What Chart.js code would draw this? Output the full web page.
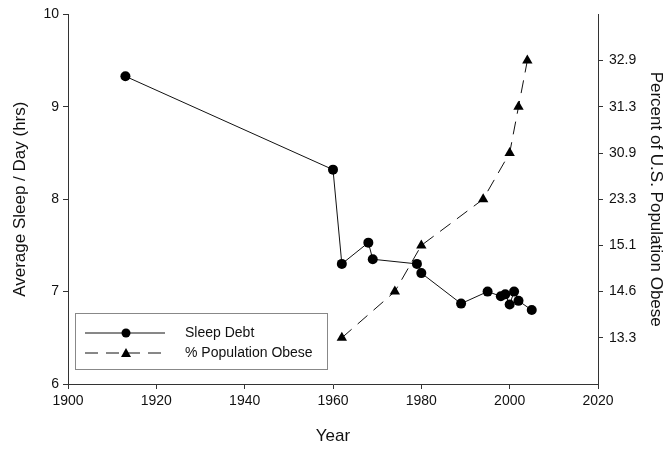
<!DOCTYPE html>
<html>
<head>
<meta charset="utf-8">
<script src="https://cdn.jsdelivr.net/npm/chart.js@4"></script>
<style>
  html, body { margin: 0; padding: 0; background: #fff; }
  #wrap { width: 672px; height: 450px; }
</style>
</head>
<body>
<div id="wrap"><canvas id="sleepChart" width="672" height="450"></canvas></div>
<script>
// sleep data
const sleepYears = [1913, 1960, 1962, 1968, 1969, 1979, 1980, 1989, 1995, 1998, 1999, 2000, 2001, 2002, 2005];
const sleepHours = [9.33, 8.32, 7.30, 7.53, 7.35, 7.30, 7.20, 6.87, 7.00, 6.95, 6.97, 6.86, 7.00, 6.90, 6.80];

// obesity data (right axis is ordinal: one tick per value)
const obeseYears = [1962, 1974, 1980, 1994, 2000, 2002, 2004];
const obesePct = [13.3, 14.6, 15.1, 23.3, 30.9, 31.3, 32.9];
const obeseTicks = ['13.3', '14.6', '15.1', '23.3', '30.9', '31.3', '32.9'];

const yearTicks = [1900, 1920, 1940, 1960, 1980, 2000, 2020];

const FONT = 'Arial, "Liberation Sans", sans-serif';
const AXIS = '#333';

const legendBox = {
  id: 'legendBox',
  afterDatasetsDraw(chart) {
    const ctx = chart.ctx;
    const x0 = 75, y0 = 313, w = 252, h = 56;
    ctx.save();
    ctx.fillStyle = '#fff';
    ctx.fillRect(x0, y0, w, h);
    ctx.strokeStyle = '#888';
    ctx.lineWidth = 1;
    ctx.strokeRect(x0 + 0.5, y0 + 0.5, w, h);

    chart.data.datasets.forEach((ds, i) => {
      const y = y0 + 20 + i * 20;
      ctx.strokeStyle = '#111';
      ctx.lineWidth = 1;
      ctx.setLineDash(ds.borderDash || []);
      ctx.beginPath();
      ctx.moveTo(85, y);
      ctx.lineTo(165, y);
      ctx.stroke();
      ctx.setLineDash([]);
      ctx.fillStyle = '#000';
      ctx.beginPath();
      if (ds.pointStyle === 'triangle') {
        ctx.moveTo(126, y - 5);
        ctx.lineTo(131, y + 4);
        ctx.lineTo(121, y + 4);
        ctx.closePath();
      } else {
        ctx.arc(126, y, 4.5, 0, Math.PI * 2);
      }
      ctx.fill();
      ctx.font = '14px ' + FONT;
      ctx.textBaseline = 'middle';
      ctx.fillStyle = '#111';
      ctx.fillText(ds.label, 185, y);
    });
    ctx.restore();
  }
};

new Chart(document.getElementById('sleepChart'), {
  type: 'line',
  data: {
    datasets: [{
      label: 'Sleep Debt',
      data: sleepYears.map((yr, i) => ({ x: yr, y: sleepHours[i] })),
      yAxisID: 'y',
      borderColor: '#111',
      borderWidth: 1,
      backgroundColor: '#000',
      pointStyle: 'circle',
      pointRadius: 5,
      pointBorderWidth: 0,
      tension: 0
    }, {
      label: '% Population Obese',
      data: obeseYears.map((yr, i) => ({ x: yr, y: obeseTicks.indexOf(obesePct[i].toFixed(1)) + 1 })),
      yAxisID: 'y2',
      borderColor: '#111',
      borderWidth: 1,
      borderDash: [13, 8],
      backgroundColor: '#000',
      pointStyle: 'triangle',
      pointRadius: 6,
      pointBorderWidth: 0,
      tension: 0
    }]
  },
  options: {
    responsive: false,
    animation: false,
    layout: { padding: { top: 13, left: 0, right: 0, bottom: 0 } },
    plugins: {
      legend: { display: false },
      tooltip: { enabled: false }
    },
    scales: {
      x: {
        type: 'linear',
        min: 1900,
        max: 2020,
        afterBuildTicks: s => { s.ticks = yearTicks.map(v => ({ value: v })); },
        afterFit: s => { s.height = 66; },
        border: { display: true, color: AXIS, width: 1 },
        grid: { drawOnChartArea: false, drawTicks: true, tickLength: 5, color: AXIS },
        ticks: { color: '#111', font: { family: FONT, size: 14 }, padding: 4, maxRotation: 0,
                  callback: v => String(v) },
        title: { display: true, text: 'Year', color: '#111', font: { family: FONT, size: 17 }, padding: { top: 4, bottom: 3 } }
      },
      y: {
        type: 'linear',
        position: 'left',
        min: 6,
        max: 10,
        ticks: { stepSize: 1, color: '#111', font: { family: FONT, size: 14 }, padding: 4 },
        afterFit: s => { s.width = 68; },
        border: { display: true, color: AXIS, width: 1 },
        grid: { drawOnChartArea: false, drawTicks: true, tickLength: 5, color: AXIS },
        title: { display: true, text: 'Average Sleep / Day (hrs)', color: '#111', font: { family: FONT, size: 17 }, padding: { top: 10, bottom: 0 } }
      },
      y2: {
        type: 'linear',
        position: 'right',
        min: 0,
        max: 8,
        afterBuildTicks: s => { s.ticks = obeseTicks.map((t, i) => ({ value: i + 1 })); },
        ticks: { color: '#111', font: { family: FONT, size: 14 }, padding: 6,
                 callback: v => obeseTicks[v - 1] || '' },
        afterFit: s => { s.width = 74; },
        border: { display: true, color: AXIS, width: 1 },
        grid: { drawOnChartArea: false, drawTicks: true, tickLength: 5, color: AXIS },
        title: { display: true, text: 'Percent of U.S. Population Obese', color: '#111', font: { family: FONT, size: 17 }, padding: { top: 6, bottom: 0 } }
      }
    }
  },
  plugins: [legendBox]
});
</script>
</body>
</html>
